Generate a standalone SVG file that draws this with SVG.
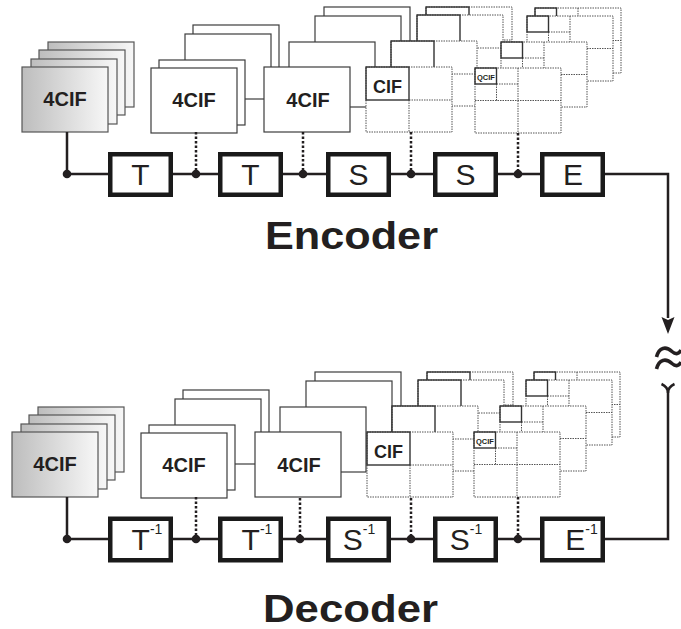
<svg xmlns="http://www.w3.org/2000/svg" xmlns:xlink="http://www.w3.org/1999/xlink" width="681" height="629" viewBox="0 0 681 629">
<style>
.fr{fill:#fff;stroke:#3c3c3c;stroke-width:1.2}
.gf{fill:url(#gg);stroke:#555;stroke-width:1.2}
.dot{fill:none;stroke:#555;stroke-width:1;stroke-dasharray:1.5 1}
.cell{fill:none;stroke:#333;stroke-width:1.4}
.lbl{font-family:"Liberation Sans",Arial,sans-serif;font-weight:bold;fill:#231f20;text-anchor:middle}
.box{fill:#fff;stroke:#1a1a1a;stroke-width:4.5}
.bt{font-family:"Liberation Sans",Arial,sans-serif;font-size:30px;fill:#231f20;text-anchor:middle}
.sup{font-size:14px}
.ln{fill:none;stroke:#231f20;stroke-width:2.5}
.dl{fill:none;stroke:#231f20;stroke-width:2.5;stroke-dasharray:2.5 2}
.nd{fill:#231f20}
.title{font-family:"Liberation Sans",Arial,sans-serif;font-weight:bold;font-size:38px;fill:#231f20}
</style>
<defs>
<linearGradient id="gg" x1="0" y1="0" x2="1" y2="0">
<stop offset="0" stop-color="#bdbdbd"/>
<stop offset="1" stop-color="#f7f7f7"/>
</linearGradient>
<g id="gray"><rect class="gf" x="0" y="0" width="86" height="65"/></g>
<g id="f4"><rect class="fr" x="0" y="0" width="86" height="65"/></g>
<g id="cif">
<rect x="0" y="0" width="86" height="65" fill="#fff"/>
<rect class="dot" x="0" y="0" width="86" height="65"/>
<path class="dot" d="M43,33V65M43,33H86"/>
<rect class="cell" x="0" y="0" width="43" height="33" fill="#fff"/>
</g>
<g id="qcif">
<rect x="0" y="0" width="86" height="65" fill="#fff"/>
<rect class="dot" x="0" y="0" width="86" height="65"/>
<path class="dot" d="M43,0V65M0,32.5H86M21.5,16V32.5M21.5,16H43"/>
<rect class="cell" x="0" y="0" width="21.5" height="16" fill="#fff"/>
</g>
</defs>

<!-- Encoder frames -->
<g id="enc-stack1">
<use href="#gray" x="48" y="42"/><use href="#gray" x="39" y="50"/><use href="#gray" x="31" y="59"/><use href="#gray" x="22" y="67"/>
<text class="lbl" x="65" y="106" font-size="20">4CIF</text>
</g>
<g id="enc-stack2">
<use href="#f4" x="193" y="25"/><use href="#f4" x="185" y="34"/><use href="#f4" x="159" y="60"/><use href="#f4" x="151" y="68"/>
<text class="lbl" x="194" y="107" font-size="20">4CIF</text>
</g>
<g id="enc-stack3">
<use href="#f4" x="324" y="7"/><use href="#f4" x="315" y="16"/><use href="#f4" x="289" y="42"/><use href="#f4" x="264" y="67"/>
<text class="lbl" x="308" y="107" font-size="20">4CIF</text>
</g>
<g id="enc-stack4">
<use href="#cif" x="426" y="7"/><use href="#cif" x="417" y="15"/><use href="#cif" x="391" y="41"/><use href="#cif" x="366" y="67"/>
<text class="lbl" x="387.5" y="93" font-size="18">CIF</text>
</g>
<g id="enc-stack5">
<use href="#qcif" x="535" y="8"/><use href="#qcif" x="527" y="16"/><use href="#qcif" x="501" y="42"/><use href="#qcif" x="475" y="68"/>
<text class="lbl" x="486" y="80" font-size="7.5">QCIF</text>
</g>

<!-- Decoder frames -->
<g id="dec-stack1" transform="translate(-10,365)">
<use href="#gray" x="48" y="42"/><use href="#gray" x="39" y="50"/><use href="#gray" x="31" y="59"/><use href="#gray" x="22" y="67"/>
<text class="lbl" x="65" y="106" font-size="20">4CIF</text>
</g>
<g id="dec-stack2" transform="translate(-10,365)">
<use href="#f4" x="193" y="25"/><use href="#f4" x="185" y="34"/><use href="#f4" x="159" y="60"/><use href="#f4" x="151" y="68"/>
<text class="lbl" x="194" y="107" font-size="20">4CIF</text>
</g>
<g id="dec-stack3" transform="translate(-9,365)">
<use href="#f4" x="324" y="7"/><use href="#f4" x="315" y="16"/><use href="#f4" x="289" y="42"/><use href="#f4" x="264" y="67"/>
<text class="lbl" x="308" y="107" font-size="20">4CIF</text>
</g>
<g id="dec-stack4" transform="translate(1,365)">
<use href="#cif" x="426" y="7"/><use href="#cif" x="417" y="15"/><use href="#cif" x="391" y="41"/><use href="#cif" x="366" y="67"/>
<text class="lbl" x="387.5" y="93" font-size="18">CIF</text>
</g>
<g id="dec-stack5" transform="translate(-1,364)">
<use href="#qcif" x="535" y="8"/><use href="#qcif" x="527" y="16"/><use href="#qcif" x="501" y="42"/><use href="#qcif" x="475" y="68"/>
<text class="lbl" x="486" y="80" font-size="7.5">QCIF</text>
</g>

<!-- Connectors -->
<g id="connectors">
<path class="ln" d="M67,132V174H668V318"/>
<path d="M661.5,317 L668,320 L674.5,317 L668,334 Z" fill="#231f20"/>
<path class="dl" d="M196,132V174M303,132V174M411,132V174M518,133V174"/>
<path class="ln" d="M67,497V539H668V391"/>
<path d="M661.5,384 Q668,387 668,393 Q668,387 674.5,384" fill="none" stroke="#231f20" stroke-width="2.5"/>
<path class="dl" d="M196,497V539M300,498V539M411,498V539M518,497V539"/>
<path d="M656.5,357 C659,347 666,346 672,351.5 C676,355 679,354 681,350" fill="none" stroke="#231f20" stroke-width="3.6"/>
<path d="M656.5,369 C659,359 666,358 672,363.5 C676,367 679,366 681,362" fill="none" stroke="#231f20" stroke-width="3.6"/>
<circle class="nd" cx="67" cy="174" r="4.3"/><circle class="nd" cx="196" cy="174" r="4.3"/><circle class="nd" cx="303" cy="174" r="4.3"/><circle class="nd" cx="411" cy="174" r="4.3"/><circle class="nd" cx="518" cy="174" r="4.3"/>
<circle class="nd" cx="67" cy="539" r="4.3"/><circle class="nd" cx="196" cy="539" r="4.3"/><circle class="nd" cx="300" cy="539" r="4.3"/><circle class="nd" cx="411" cy="539" r="4.3"/><circle class="nd" cx="518" cy="539" r="4.3"/>
</g>

<!-- Encoder boxes -->
<g id="enc-T1"><rect class="box" x="110.25" y="154.25" width="60.5" height="40.5"/><text class="bt" x="140.5" y="185">T</text></g>
<g id="enc-T2"><rect class="box" x="220.25" y="154.25" width="60.5" height="40.5"/><text class="bt" x="250.5" y="185">T</text></g>
<g id="enc-S1"><rect class="box" x="328.25" y="154.25" width="60.5" height="40.5"/><text class="bt" x="358.5" y="185">S</text></g>
<g id="enc-S2"><rect class="box" x="435.25" y="154.25" width="60.5" height="40.5"/><text class="bt" x="465.5" y="185">S</text></g>
<g id="enc-E"><rect class="box" x="542.25" y="154.25" width="60.5" height="40.5"/><text class="bt" x="573" y="185">E</text></g>

<!-- Decoder boxes -->
<g id="dec-T1"><rect class="box" x="110.25" y="518.75" width="60.5" height="41.5"/><text class="bt" x="147" y="550">T<tspan class="sup" dy="-16">-1</tspan></text></g>
<g id="dec-T2"><rect class="box" x="220.25" y="518.75" width="60.5" height="41.5"/><text class="bt" x="257" y="550">T<tspan class="sup" dy="-16">-1</tspan></text></g>
<g id="dec-S1"><rect class="box" x="328.25" y="518.75" width="60.5" height="41.5"/><text class="bt" x="359" y="550">S<tspan class="sup" dy="-16">-1</tspan></text></g>
<g id="dec-S2"><rect class="box" x="435.25" y="518.75" width="60.5" height="41.5"/><text class="bt" x="466" y="550">S<tspan class="sup" dy="-16">-1</tspan></text></g>
<g id="dec-E"><rect class="box" x="542.25" y="518.75" width="60.5" height="41.5"/><text class="bt" x="581.5" y="550">E<tspan class="sup" dy="-16">-1</tspan></text></g>

<text id="encoder-title" class="title" x="265" y="249" textLength="173" lengthAdjust="spacingAndGlyphs">Encoder</text>
<text id="decoder-title" class="title" x="263" y="622" textLength="175" lengthAdjust="spacingAndGlyphs">Decoder</text>
</svg>
